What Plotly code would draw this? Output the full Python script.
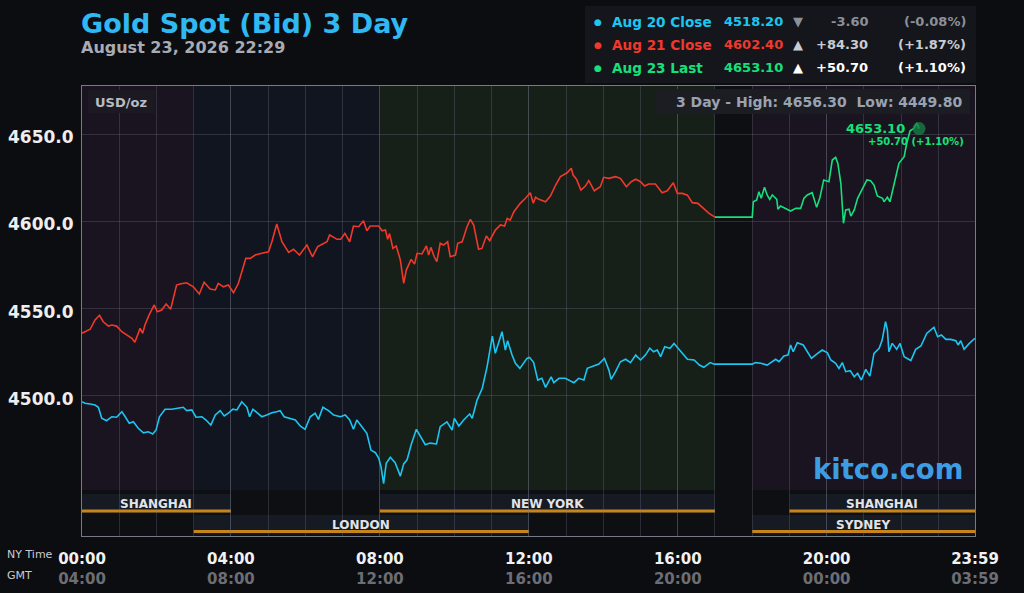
import plotly.graph_objects as go

# ---------------- data ----------------
aug20_hours = [0.00,0.08,0.22,0.35,0.44,0.53,0.66,0.80,0.93,1.07,1.16,1.27,1.38,1.51,1.65,1.78,1.90,1.99,2.08,2.23,2.41,2.59,2.72,2.81,2.95,3.06,3.22,3.33,3.46,3.58,3.71,3.82,3.93,4.05,4.16,4.29,4.43,4.50,4.59,4.70,4.83,4.96,5.10,5.23,5.32,5.43,5.59,5.73,5.86,5.99,6.13,6.26,6.35,6.47,6.62,6.76,6.94,7.07,7.19,7.29,7.38,7.54,7.65,7.76,7.88,7.97,8.03,8.10,8.17,8.28,8.41,8.55,8.64,8.73,8.84,8.98,9.10,9.22,9.35,9.52,9.62,9.80,9.94,10.00,10.12,10.25,10.41,10.48,10.61,10.75,10.88,11.02,11.10,11.16,11.28,11.37,11.43,11.55,11.64,11.76,11.86,11.95,12.02,12.13,12.24,12.35,12.45,12.60,12.67,12.81,12.98,13.21,13.34,13.48,13.57,13.74,13.88,14.03,14.15,14.21,14.33,14.46,14.60,14.73,14.87,15.00,15.13,15.25,15.35,15.45,15.54,15.65,15.79,15.90,16.03,16.17,16.26,16.44,16.58,16.70,16.80,16.87,16.98,18.00,18.09,18.23,18.40,18.51,18.63,18.72,18.85,18.96,19.03,19.10,19.21,19.37,19.48,19.59,19.73,19.88,20.02,20.11,20.24,20.33,20.42,20.51,20.63,20.74,20.83,20.93,21.05,21.16,21.27,21.41,21.49,21.58,21.63,21.67,21.76,21.88,21.97,22.08,22.26,22.39,22.53,22.69,22.88,22.98,23.08,23.20,23.33,23.47,23.53,23.60,23.69,23.83,23.98]
aug20_prices = [4496.7,4495.8,4495.4,4494.8,4493.5,4487.2,4485.8,4488.1,4487.8,4491.0,4488.1,4484.3,4485.2,4481.5,4478.9,4479.5,4478.2,4480.5,4488.1,4492.4,4492.4,4492.9,4493.5,4491.6,4492.0,4487.8,4488.1,4486.2,4483.3,4489.1,4491.6,4488.5,4490.1,4492.4,4492.0,4496.7,4493.5,4488.1,4492.4,4490.4,4488.1,4489.1,4490.4,4491.0,4491.6,4488.1,4487.2,4486.2,4482.8,4480.9,4488.1,4490.1,4486.6,4493.5,4491.6,4489.1,4488.1,4489.1,4486.2,4480.9,4486.2,4482.0,4478.6,4469.0,4467.5,4464.3,4459.5,4449.8,4461.4,4464.9,4461.8,4454.1,4461.1,4463.4,4472.1,4480.9,4476.6,4472.1,4473.0,4472.5,4482.4,4485.2,4480.5,4487.2,4482.8,4486.2,4489.7,4487.2,4497.6,4504.4,4516.8,4534.3,4524.4,4528.2,4536.8,4526.3,4531.6,4523.4,4518.7,4515.8,4518.7,4521.5,4522.1,4519.1,4509.1,4510.1,4504.9,4511.0,4507.6,4510.1,4510.1,4507.6,4510.1,4509.1,4515.8,4517.1,4518.3,4521.5,4514.8,4509.5,4513.9,4519.6,4521.0,4519.1,4523.4,4520.6,4523.4,4527.3,4525.3,4526.3,4522.5,4528.2,4527.3,4530.1,4526.7,4523.4,4521.0,4520.6,4517.7,4516.4,4517.7,4519.1,4518.2,4518.2,4519.1,4518.7,4517.7,4519.1,4521.0,4519.6,4522.9,4523.4,4529.2,4525.3,4530.5,4529.2,4525.3,4521.5,4524.0,4526.3,4524.7,4520.6,4518.7,4515.8,4519.1,4513.9,4514.5,4511.0,4513.0,4509.1,4515.2,4511.4,4524.4,4527.3,4532.0,4542.5,4537.8,4525.3,4530.1,4526.7,4530.1,4522.5,4520.3,4526.7,4528.6,4535.9,4539.3,4533.9,4534.9,4532.4,4532.4,4531.6,4529.2,4531.6,4526.7,4530.1,4533.0]

aug21_hours = [0.00,0.13,0.22,0.35,0.47,0.57,0.71,0.80,0.93,1.07,1.20,1.34,1.42,1.56,1.63,1.69,1.80,1.94,2.02,2.14,2.26,2.38,2.54,2.63,2.81,2.99,3.15,3.28,3.44,3.58,3.66,3.80,3.93,4.07,4.20,4.40,4.52,4.65,4.83,5.01,5.10,5.23,5.37,5.55,5.68,5.84,6.04,6.19,6.33,6.58,6.65,6.85,6.95,7.06,7.19,7.29,7.43,7.56,7.65,7.74,7.97,8.06,8.15,8.21,8.26,8.35,8.44,8.55,8.64,8.71,8.84,8.93,9.00,9.13,9.25,9.31,9.37,9.46,9.53,9.62,9.71,9.82,9.89,10.03,10.09,10.21,10.34,10.43,10.52,10.65,10.74,10.86,10.95,11.10,11.24,11.35,11.42,11.50,11.60,11.69,11.77,11.91,12.04,12.12,12.18,12.27,12.45,12.58,12.72,12.85,13.03,13.14,13.19,13.28,13.40,13.52,13.61,13.76,13.92,14.01,14.15,14.33,14.46,14.62,14.75,14.87,15.00,15.11,15.22,15.40,15.58,15.72,15.88,15.99,16.12,16.26,16.39,16.54,16.70,16.84,17.00]
aug21_prices = [4535.9,4537.4,4538.2,4543.5,4546.2,4542.5,4540.0,4540.6,4540.0,4536.8,4534.9,4533.0,4530.7,4538.7,4535.9,4540.6,4546.3,4552.1,4548.2,4549.2,4552.6,4549.6,4563.5,4564.1,4564.8,4562.5,4558.4,4565.1,4561.2,4560.7,4564.5,4562.5,4563.5,4559.1,4564.5,4578.8,4578.8,4580.7,4581.7,4582.6,4588.3,4598.5,4588.3,4582.2,4584.0,4580.7,4586.4,4579.7,4585.5,4588.3,4592.2,4589.7,4589.7,4593.1,4588.3,4597.3,4596.9,4600.4,4594.6,4597.3,4597.3,4594.6,4595.0,4589.7,4593.0,4584.5,4585.9,4577.8,4564.5,4572.1,4578.2,4575.5,4581.7,4581.3,4585.9,4580.7,4585.1,4579.7,4576.9,4587.4,4586.4,4588.3,4579.7,4580.7,4587.4,4588.3,4596.9,4601.1,4597.9,4584.0,4584.5,4591.6,4588.9,4595.0,4597.9,4597.3,4601.7,4600.7,4605.5,4608.4,4610.3,4613.2,4616.4,4610.3,4613.8,4612.6,4611.2,4614.5,4620.8,4625.6,4627.8,4630.4,4626.5,4624.1,4617.9,4620.2,4623.3,4617.5,4619.8,4625.2,4624.6,4625.6,4624.6,4619.8,4622.7,4624.1,4622.7,4620.2,4621.4,4621.4,4616.4,4617.5,4622.1,4616.0,4616.0,4615.0,4610.7,4610.3,4607.4,4604.6,4602.4]

aug23_hours = [17.00,18.00,18.03,18.12,18.18,18.24,18.33,18.40,18.47,18.54,18.66,18.69,18.76,18.90,19.03,19.17,19.30,19.39,19.48,19.61,19.73,19.82,19.92,20.06,20.15,20.24,20.30,20.38,20.45,20.51,20.60,20.65,20.74,20.83,20.96,21.08,21.18,21.27,21.36,21.50,21.54,21.63,21.70,21.77,21.85,21.94,22.08,22.15,22.24,22.35,22.42,22.48]
aug23_prices = [4602.4,4602.4,4611.2,4612.2,4617.0,4613.2,4619.5,4615.1,4612.6,4615.1,4612.6,4606.9,4608.8,4607.4,4605.9,4607.4,4607.4,4613.2,4615.1,4616.4,4608.0,4613.8,4623.7,4622.7,4635.1,4636.6,4633.2,4621.8,4598.9,4606.5,4606.9,4603.0,4606.5,4613.2,4618.9,4623.7,4623.3,4620.8,4614.5,4613.2,4611.2,4613.8,4611.2,4617.9,4626.5,4633.2,4637.0,4644.7,4651.9,4653.3,4656.3,4653.1]

legend_labels = ["Aug 20 Close", "Aug 21 Close", "Aug 23 Last"]
legend_values = ["4518.20", "4602.40", "4653.10"]
legend_arrows = ["▼", "▲", "▲"]
legend_changes = ["-3.60", "+84.30", "+50.70"]
legend_pcts = ["(-0.08%)", "(+1.87%)", "(+1.10%)"]

y_ticks = [4500, 4550, 4600, 4650]
x_tick_hours = [0, 4, 8, 12, 16, 20, 23.983]
ny_labels = ["00:00", "04:00", "08:00", "12:00", "16:00", "20:00", "23:59"]
gmt_labels = ["04:00", "08:00", "12:00", "16:00", "20:00", "00:00", "03:59"]

# trading zones (background) : start hour, end hour
zone_starts = [0, 3, 8, 18]
zone_ends = [3, 8, 17, 23.983]
# sessions : name, start, end, row
session_names = ["SHANGHAI", "NEW YORK", "SHANGHAI", "LONDON", "SYDNEY"]
session_starts = [0, 8, 19, 3, 18]
session_ends = [4, 17, 23.983, 12, 23.983]
session_rows = [0, 0, 0, 1, 1]

high_low_text = "3 Day - High: 4656.30\u00a0\u00a0Low: 4449.80"
last_price = "4653.10"
last_change = "+50.70 (+1.10%)"

# ---------------- style ----------------
BG = "#0c0d11"
CYAN = "#1cc6f0"
RED = "#f0392b"
GREEN = "#16e07c"
zone_colors = ["#1a1320", "#11151f", "#171f19", "#1a1320"]
GRID = "rgba(120,126,142,0.28)"
FONT = "DejaVu Sans"

L, R, T, B = 82, 49, 86, 57
W, H = 1024, 593
PW, PH = W - L - R, H - T - B


def px(xp):
    return (xp - L) / PW


def py(yp):
    return (H - B - yp) / PH


fig = go.Figure()
series = [(aug20_hours, aug20_prices, CYAN), (aug21_hours, aug21_prices, RED), (aug23_hours, aug23_prices, GREEN)]
for hrs, prs, col in series:
    fig.add_trace(go.Scatter(x=hrs, y=prs, mode="lines", line=dict(color=col, width=1.6),
                             hoverinfo="skip", showlegend=False))

fig.add_trace(go.Scatter(x=[aug23_hours[-1]], y=[aug23_prices[-1]], mode="markers",
                         marker=dict(size=13, color="rgba(24,130,72,0.75)"),
                         hoverinfo="skip", showlegend=False))

shapes = []
zone_top, zone_bot = 1.0, py(490)
for s, e, c in zip(zone_starts, zone_ends, zone_colors):
    shapes.append(dict(type="rect", xref="x", yref="paper", x0=s, x1=e, y0=zone_bot, y1=zone_top,
                       fillcolor=c, line=dict(width=0), layer="below"))

row_box = [(py(513), py(494)), (py(534.5), py(515))]
row_line = [py(511), py(531.5)]
row_text = [py(504), py(525)]
annotations = []
for name, s, e, r in zip(session_names, session_starts, session_ends, session_rows):
    y0, y1 = row_box[r]
    shapes.append(dict(type="rect", xref="x", yref="paper", x0=s, x1=e, y0=y0, y1=y1,
                       fillcolor="#151a23", line=dict(width=0), layer="between"))
    shapes.append(dict(type="line", xref="x", yref="paper", x0=s, x1=e, y0=row_line[r], y1=row_line[r],
                       line=dict(color="#c7841a", width=3), layer="between"))
    annotations.append(dict(x=(s + e) / 2, y=row_text[r], xref="x", yref="paper", text=f"<b>{name}</b>",
                            showarrow=False, font=dict(family=FONT, size=12, color="#e2e4e8"),
                            xanchor="center", yanchor="middle"))

# legend box
shapes.append(dict(type="rect", xref="paper", yref="paper", x0=px(585), x1=px(976), y0=py(83), y1=py(6),
                   fillcolor="#14161b", line=dict(width=0), layer="above"))
# high/low box
shapes.append(dict(type="rect", xref="paper", yref="paper", x0=px(656), x1=px(970), y0=py(114), y1=py(89),
                   fillcolor="#1b1d23", line=dict(width=0), layer="above"))
# USD/oz box
shapes.append(dict(type="rect", xref="paper", yref="paper", x0=px(88), x1=px(155), y0=py(113), y1=py(90),
                   fillcolor="#1d1922", line=dict(width=0), layer="above"))
# last price box
shapes.append(dict(type="rect", xref="paper", yref="paper", x0=px(843), x1=px(968), y0=py(148), y1=py(120),
                   fillcolor="rgba(26,22,32,0.85)", line=dict(width=0), layer="between"))

leg_colors = [CYAN, RED, GREEN]
chg_colors = ["#8b9099", "#c9ccd2", "#ffffff"]
row_y = [22, 45, 68]
for i in range(3):
    yy = py(row_y[i])
    annotations += [
        dict(x=px(598), y=yy, text="●", font=dict(family=FONT, size=9, color=leg_colors[i]), xanchor="center"),
        dict(x=px(610), y=yy, text=f"<b>{legend_labels[i]}</b>", font=dict(family=FONT, size=13.6, color=leg_colors[i]), xanchor="left"),
        dict(x=px(785), y=yy, text=f"<b>{legend_values[i]}</b>", font=dict(family=FONT, size=13, color=leg_colors[i]), xanchor="right"),
        dict(x=px(798), y=yy, text=legend_arrows[i], font=dict(family=FONT, size=13, color=chg_colors[i]), xanchor="center"),
        dict(x=px(870), y=yy, text=f"<b>{legend_changes[i]}</b>", font=dict(family=FONT, size=13, color=chg_colors[i]), xanchor="right"),
        dict(x=px(968), y=yy, text=f"<b>{legend_pcts[i]}</b>", font=dict(family=FONT, size=13, color=chg_colors[i]), xanchor="right"),
    ]

annotations += [
    dict(x=px(79), y=py(23), text="<b>Gold Spot (Bid) 3 Day</b>", font=dict(family=FONT, size=27, color="#2fb8f2"), xanchor="left"),
    dict(x=px(79), y=py(48), text="<b>August 23, 2026 22:29</b>", font=dict(family=FONT, size=16, color="#a9abb1"), xanchor="left"),
    dict(x=px(964), y=py(102), text=f"<b>{high_low_text}</b>", font=dict(family=FONT, size=14, color="#9aa2b1"), xanchor="right"),
    dict(x=px(121), y=py(102), text="<b>USD/oz</b>", font=dict(family=FONT, size=13, color="#b8bcc5"), xanchor="center"),
    dict(x=px(907), y=py(129), text=f"<b>{last_price}</b>", font=dict(family=FONT, size=13, color=GREEN), xanchor="right"),
    dict(x=px(966), y=py(141), text=f"<b>{last_change}</b>", font=dict(family=FONT, size=10, color=GREEN), xanchor="right"),
    dict(x=px(965), y=py(469), text="<b>kitco.com</b>", font=dict(family=FONT, size=27.5, color="#3d9de2"), xanchor="right"),
    dict(x=px(5), y=py(554), text="NY Time", font=dict(family=FONT, size=11, color="#c9cbd0"), xanchor="left"),
    dict(x=px(5), y=py(575), text="GMT", font=dict(family=FONT, size=11, color="#c9cbd0"), xanchor="left"),
]
for a in annotations:
    a.setdefault("xref", "paper")
    a.setdefault("yref", "paper")
    a.setdefault("showarrow", False)
    a.setdefault("yanchor", "middle")

x_ticktext = [f"<b>{n}</b><br><span style='color:#6c6e74'><b>{g}</b></span>" for n, g in zip(ny_labels, gmt_labels)]

fig.update_layout(
    width=W, height=H,
    margin=dict(l=L, r=R, t=T, b=B, pad=0, autoexpand=False),
    paper_bgcolor=BG, plot_bgcolor="#0e0f13",
    shapes=shapes, annotations=annotations,
    showlegend=False,
    xaxis=dict(range=[0, 23.983], tickmode="array", tickvals=x_tick_hours, ticktext=x_ticktext,
               tickfont=dict(family=FONT, size=15, color="#f2f2f2"),
               showgrid=True, gridcolor=GRID, gridwidth=1,
               minor=dict(tickmode="linear", tick0=0, dtick=1, showgrid=True, gridcolor=GRID, gridwidth=1),
               showline=True, linecolor="#767b86", linewidth=1, mirror=True, automargin=False,
               zeroline=False, ticks="", ticklabelstandoff=9, fixedrange=True),
    yaxis=dict(range=[4419.8, 4677.5], tickmode="array", tickvals=y_ticks, tickformat=".1f",
               tickfont=dict(family=FONT, size=17, color="#eeeeee", weight="bold"),
               showgrid=True, gridcolor=GRID, gridwidth=1,
               showline=True, linecolor="#767b86", linewidth=1, mirror=True, automargin=False,
               zeroline=False, ticks="", ticklabelstandoff=4, ticklabelshift=3, fixedrange=True),
)

fig.write_html("out.html", config={"displayModeBar": False, "staticPlot": True},
               post_script="document.body.style.margin='0';document.body.style.background='#0c0d11';document.body.style.overflow='hidden';")
